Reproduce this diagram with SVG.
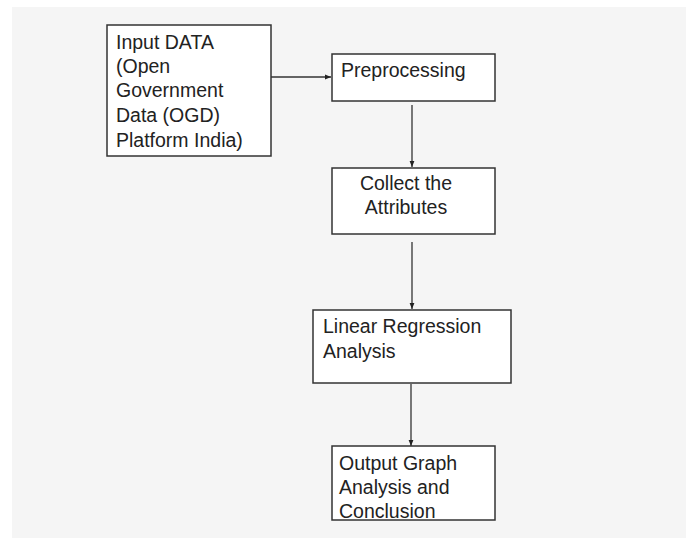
<svg xmlns="http://www.w3.org/2000/svg" width="686" height="538" viewBox="0 0 686 538">
<style>
.box{fill:#ffffff;stroke:#333333;stroke-width:1.5}
.t{font-family:"Liberation Sans",Arial,sans-serif;font-size:19.5px;fill:#222222}
.c{fill:none;stroke:#333333;stroke-width:1.3}
</style>
<defs>
<marker id="ah" viewBox="0 0 10 10" refX="10" refY="5" markerWidth="6" markerHeight="6" orient="auto" markerUnits="userSpaceOnUse">
<path d="M0,1 L10,5 L0,9 z" fill="#222222"/>
</marker>
</defs>
<rect width="686" height="538" fill="#ffffff"/>
<rect x="12" y="7" width="674" height="531" fill="#f5f5f5"/>
<g id="connectors">
<line class="c" x1="271" y1="77" x2="331" y2="77" marker-end="url(#ah)"/>
<line class="c" x1="412" y1="105" x2="412" y2="167" marker-end="url(#ah)"/>
<line class="c" x1="412" y1="242" x2="412" y2="309" marker-end="url(#ah)"/>
<line class="c" x1="411" y1="384" x2="411" y2="446" marker-end="url(#ah)"/>
</g>
<g id="input">
<rect class="box" x="107" y="25" width="164" height="131"/>
<text class="t" x="116" y="49">Input DATA</text>
<text class="t" x="116" y="73">(Open</text>
<text class="t" x="116" y="97">Government</text>
<text class="t" x="116" y="122">Data (OGD)</text>
<text class="t" x="116" y="147">Platform India)</text>
</g>
<g id="preprocessing">
<rect class="box" x="332" y="54" width="163" height="47"/>
<text class="t" x="341" y="77">Preprocessing</text>
</g>
<g id="collect">
<rect class="box" x="332" y="168" width="163" height="66"/>
<text class="t" x="406" y="190" text-anchor="middle">Collect the</text>
<text class="t" x="406" y="214" text-anchor="middle">Attributes</text>
</g>
<g id="regression">
<rect class="box" x="313" y="310" width="198" height="73"/>
<text class="t" x="323" y="333">Linear Regression</text>
<text class="t" x="323" y="358">Analysis</text>
</g>
<g id="output">
<rect class="box" x="332" y="446" width="163" height="74"/>
<text class="t" x="339" y="470">Output Graph</text>
<text class="t" x="339" y="494">Analysis and</text>
<text class="t" x="339" y="518">Conclusion</text>
</g>
</svg>
